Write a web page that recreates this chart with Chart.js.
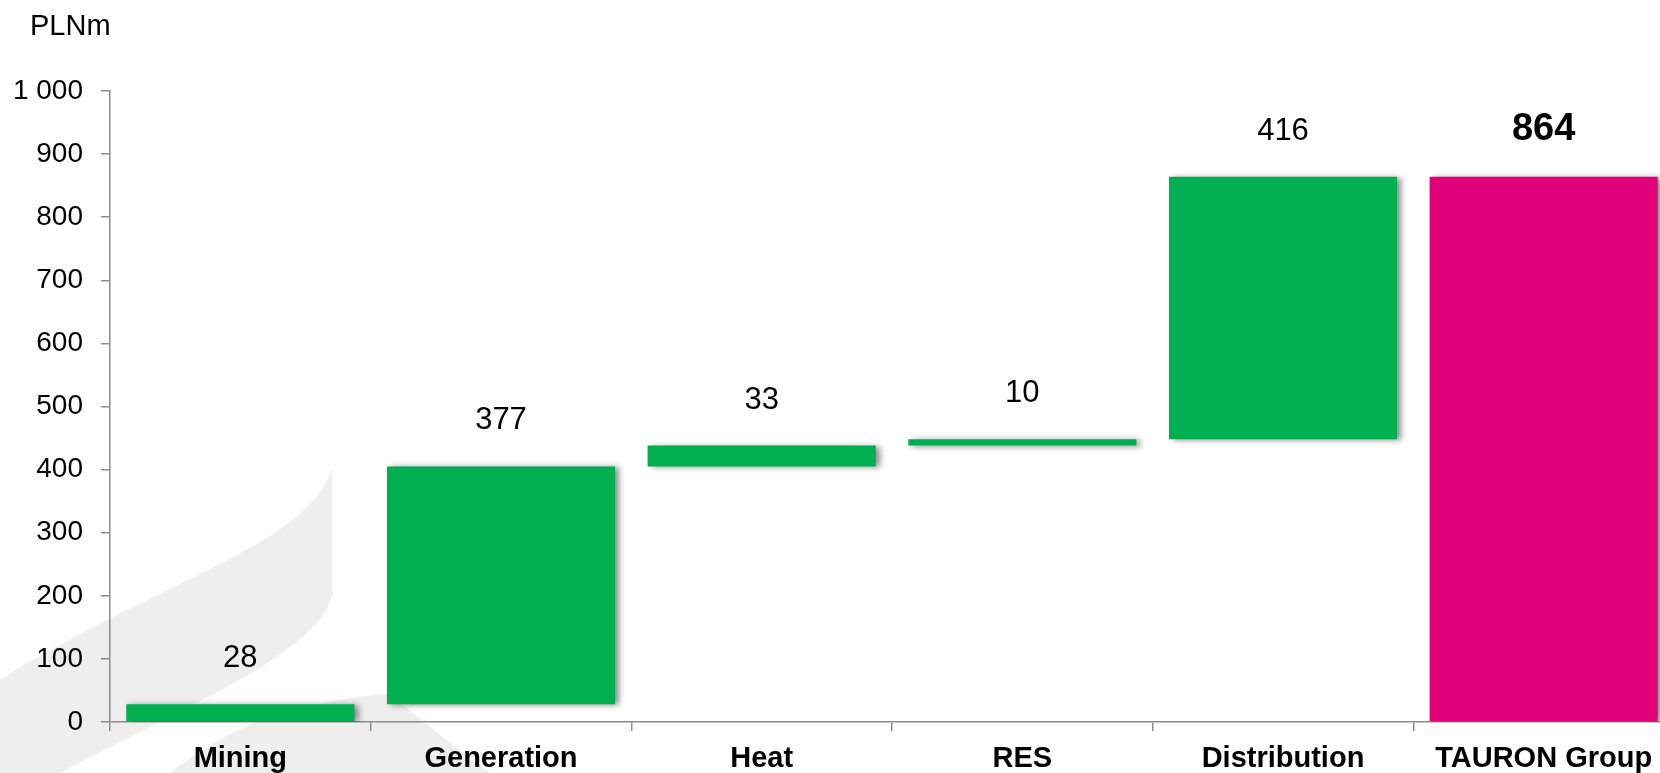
<!DOCTYPE html>
<html>
<head>
<meta charset="utf-8">
<script src="https://cdn.jsdelivr.net/npm/chart.js@4"></script>
<style>
  html, body { margin: 0; padding: 0; background: #fff; overflow: hidden; }
  canvas { display: block; }
</style>
</head>
<body>
<canvas id="myChart" width="1674" height="773"></canvas>
<script>
// データ
const categories = ['Mining', 'Generation', 'Heat', 'RES', 'Distribution', 'TAURON Group'];
const changes = [28, 377, 33, 10, 416];
const total = 864;
const yTicks = [0, 100, 200, 300, 400, 500, 600, 700, 800, 900, 1000];
const unitLabel = 'PLNm';

const GREEN = '#00b050';
const PINK = '#e2007a';
const AXIS = '#8c8c8c';
const FONT = "'Liberation Sans', Arial, sans-serif";

// 積み上げ（浮動バー）の範囲
function buildRanges() {
  const ranges = [];
  let sum = 0;
  changes.forEach(v => {
    ranges.push([sum, sum + v]);
    sum += v;
  });
  ranges.push([0, total]);
  return ranges;
}

const valueTexts = changes.map(String).concat([String(total)]);

function formatThousands(v) {
  return String(v).replace(/\B(?=(\d{3})+(?!\d))/g, ' ');
}

// 背景のロゴっぽい模様
const watermark = {
  id: 'watermark',
  beforeDraw(chart) {
    const ctx = chart.ctx;
    ctx.save();
    ctx.fillStyle = '#eeeeee';
    ctx.beginPath();
    ctx.moveTo(0, 680);
    ctx.bezierCurveTo(150, 585, 310, 545, 332, 468);
    ctx.lineTo(332, 595);
    ctx.bezierCurveTo(320, 650, 200, 700, 60, 773);
    ctx.lineTo(0, 773);
    ctx.closePath();
    ctx.fill();

    ctx.beginPath();
    ctx.moveTo(170, 773);
    ctx.bezierCurveTo(230, 725, 300, 700, 390, 694);
    ctx.bezierCurveTo(420, 720, 460, 750, 490, 773);
    ctx.closePath();
    ctx.fill();
    ctx.restore();
  }
};

// 棒の影
const barShadow = {
  id: 'barShadow',
  beforeDatasetsDraw(chart) {
    const ctx = chart.ctx;
    ctx.save();
    ctx.shadowColor = 'rgba(0,0,0,0.45)';
    ctx.shadowBlur = 6;
    ctx.shadowOffsetX = 4;
    ctx.shadowOffsetY = 1;
  },
  afterDatasetsDraw(chart) {
    chart.ctx.restore();
  }
};

// 値ラベルと単位
const valueLabels = {
  id: 'valueLabels',
  afterDraw(chart) {
    const ctx = chart.ctx;
    const meta = chart.getDatasetMeta(0);
    ctx.save();
    ctx.fillStyle = '#000';
    ctx.textAlign = 'center';
    ctx.textBaseline = 'alphabetic';
    meta.data.forEach((bar, i) => {
      const isTotal = i === valueTexts.length - 1;
      ctx.font = isTotal ? `bold 38px ${FONT}` : `31px ${FONT}`;
      ctx.fillText(valueTexts[i], bar.x, bar.y - 37);
    });

    ctx.textAlign = 'left';
    ctx.font = `29px ${FONT}`;
    ctx.fillText(unitLabel, 30, 35);
    ctx.restore();
  }
};

const chart = new Chart(document.getElementById('myChart'), {
  type: 'bar',
  data: {
    labels: categories,
    datasets: [{
      data: buildRanges(),
      backgroundColor: categories.map((c, i) => i === categories.length - 1 ? PINK : GREEN),
      borderWidth: 0,
      barPercentage: 0.875,
      categoryPercentage: 1.0
    }]
  },
  options: {
    responsive: false,
    animation: false,
    layout: { padding: { top: 91, right: 0, bottom: 0, left: 0 } },
    plugins: {
      legend: { display: false },
      tooltip: { enabled: false }
    },
    scales: {
      x: {
        grid: {
          display: true,
          drawOnChartArea: false,
          drawTicks: true,
          tickLength: 9,
          color: AXIS,
          lineWidth: 1.5,
          offset: true
        },
        border: { color: AXIS, width: 1.5 },
        ticks: {
          color: '#000',
          font: { family: FONT, size: 29, weight: 'bold' },
          padding: 11,
          maxRotation: 0,
          autoSkip: false
        },
        afterFit(scale) { scale.height = 51; }
      },
      y: {
        min: 0,
        max: 1000,
        afterBuildTicks(scale) {
          scale.ticks = yTicks.map(v => ({ value: v }));
        },
        grid: {
          display: true,
          drawOnChartArea: false,
          drawTicks: true,
          tickLength: 9,
          color: AXIS,
          lineWidth: 1.5
        },
        border: { color: AXIS, width: 1.5 },
        ticks: {
          color: '#000',
          font: { family: FONT, size: 28 },
          padding: 18,
          callback: v => formatThousands(v)
        },
        afterFit(scale) { scale.width = 110; }
      }
    }
  },
  plugins: [watermark, barShadow, valueLabels]
});
</script>
</body>
</html>
